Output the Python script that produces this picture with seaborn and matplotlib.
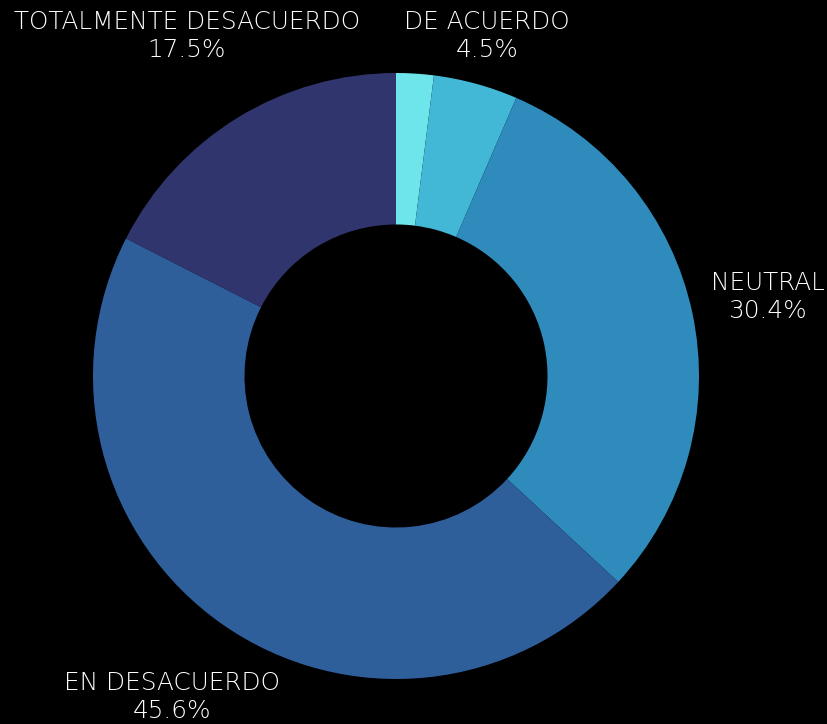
import matplotlib
matplotlib.use("Agg")
import matplotlib.pyplot as plt
import seaborn as sns

categories = ["TOTALMENTE DE ACUERDO", "DE ACUERDO", "NEUTRAL", "EN DESACUERDO", "TOTALMENTE DESACUERDO"]
values = [2.0, 4.5, 30.4, 45.6, 17.5]
show_label = [False, True, True, True, True]
colors = ["#6de5ea", "#42b8d6", "#2e8bbb", "#2e5f9b", "#31356e"]

sns.set_theme(style="white")
plt.rcParams["font.family"] = ["DejaVu Sans"]

W, H = 828, 724
fig = plt.figure(figsize=(W / 100, H / 100), dpi=100, facecolor="black")
cx, cy, R = 396, 376, 303
ax = fig.add_axes([(cx - R) / W, (H - cy - R) / H, 2 * R / W, 2 * R / H])
ax.set_facecolor("black")

ax.pie(values, colors=sns.color_palette(colors), startangle=90, counterclock=False,
       radius=1.0, wedgeprops=dict(width=0.5, edgecolor="none"))
ax.set_xlim(-1, 1)
ax.set_ylim(-1, 1)
ax.set_aspect("equal")
ax.axis("off")

# label centre positions in pixels
label_pos = {
    "DE ACUERDO": (487, 36),
    "NEUTRAL": (768, 297),
    "EN DESACUERDO": (172, 697),
    "TOTALMENTE DESACUERDO": (187, 36),
}
for cat, val, show in zip(categories, values, show_label):
    if not show:
        continue
    x, y = label_pos[cat]
    fig.text(x / W, 1 - y / H, f"{cat}\n{val:.1f}%", color="white", ha="center", va="center",
             fontsize=17.8, linespacing=1.2, fontweight="light")

fig.savefig("out.png", dpi=100, facecolor="black")
